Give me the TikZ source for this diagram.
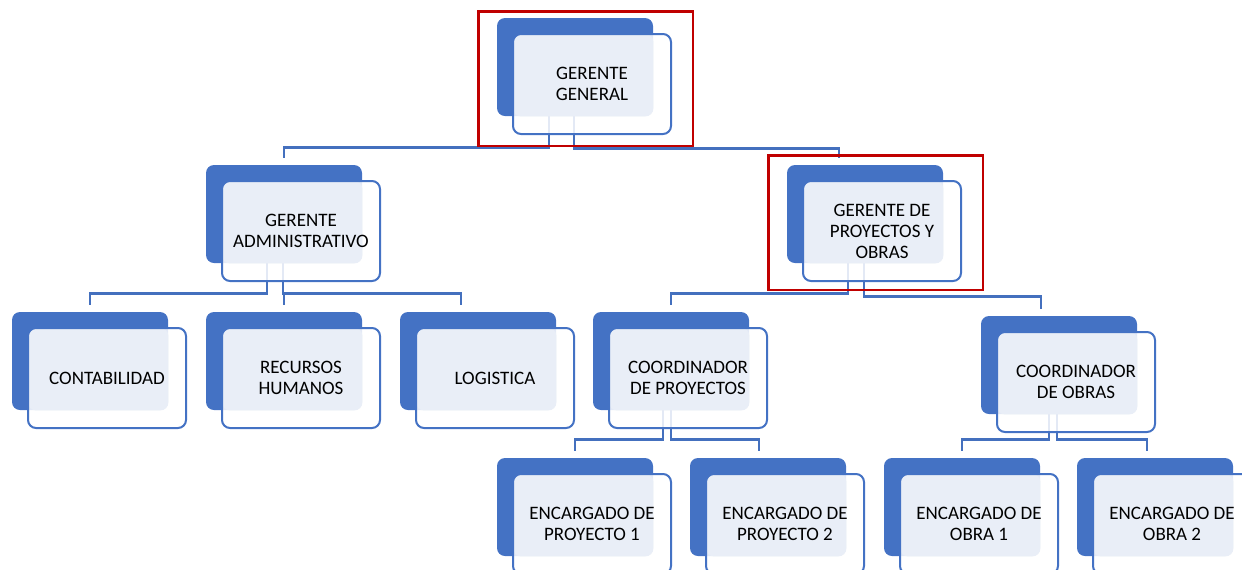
\documentclass[tikz,border=0pt]{standalone}
\usepackage{fontspec}
\setmainfont{Carlito}
\usepackage{tikz}

\definecolor{boxblue}{HTML}{4472C4}
\definecolor{boxlight}{HTML}{E9EEF7}
\definecolor{linkblue}{HTML}{4470BE}
\definecolor{markred}{HTML}{C00000}

\tikzset{
  backbox/.style={rectangle, rounded corners=4pt, fill=boxblue, minimum width=78pt, minimum height=49pt, inner sep=0pt},
  frontbox/.style={rectangle, rounded corners=4pt, draw=boxblue, line width=1pt, fill=white, fill opacity=0.85, text opacity=1, minimum width=79pt, minimum height=50pt, inner sep=0pt},
  boxtext/.style={align=center, font=\fontsize{9.5}{10.5}\selectfont, text=black},
  link/.style={draw=linkblue, line width=1.1pt},
  markbox/.style={draw=markred, line width=1.2pt}
}

\begin{document}
\begin{tikzpicture}[x=0.5pt, y=-0.5pt]
        \useasboundingbox (0,0) rectangle (1242,569);
        % back boxes
        \foreach \n/\x/\y in {gg/575/67, gadm/284/214, gpo/865/214, cont/90/361, rrhh/284/361, log/478/361, cproy/671/361, cobras/1059/365, ep1/575/507, ep2/768/507, eo1/962/507, eo2/1155/507}
            \node[backbox] (\n-b) at (\x,\y) {};
        % connectors
        \foreach \p/\px/\dy/\c/\cx in {gg/-26/31/gadm/0, gg/-1/32/gpo/-26, gadm/-17/30/cont/0, gadm/-1/30/rrhh/0, gadm/-1/30/log/-17, gpo/-17/30/cproy/0, gpo/-1/33/cobras/-18, cproy/-8/29/ep1/0, cproy/0/29/ep2/-9, cobras/-10/25/eo1/0, cobras/-2/25/eo2/-8}
            \draw[link] ([shift={(\px,0)}]\p-b.south) -- ++(0,\dy) -| ([shift={(\cx,-7)}]\c-b.north);
        % front boxes
        \foreach \n/\t in {gg/{GERENTE\\GENERAL}, gadm/{GERENTE\\ADMINISTRATIVO}, gpo/{GERENTE DE\\PROYECTOS Y\\OBRAS}, cont/{CONTABILIDAD}, rrhh/{RECURSOS\\HUMANOS}, log/{LOGISTICA}, cproy/{COORDINADOR\\DE PROYECTOS}, cobras/{COORDINADOR\\DE OBRAS}, ep1/{ENCARGADO DE\\PROYECTO 1}, ep2/{ENCARGADO DE\\PROYECTO 2}, eo1/{ENCARGADO DE\\OBRA 1}, eo2/{ENCARGADO DE\\OBRA 2}}
            \node[frontbox, boxtext, path picture={\fill[boxlight, fill opacity=1, rounded corners=4pt] (path picture bounding box.north west) rectangle (\n-b.south east);}] (\n) at ([shift={(17,17)}]\n-b.center) {\t};
        % red marks
        \draw[markbox] ([shift={(-18,-6)}]gg-b.north west) rectangle ([shift={(21,11)}]gg.south east);
        \draw[markbox] ([shift={(-18,-9)}]gpo-b.north west) rectangle ([shift={(21,8)}]gpo.south east);
\end{tikzpicture}
\end{document}
